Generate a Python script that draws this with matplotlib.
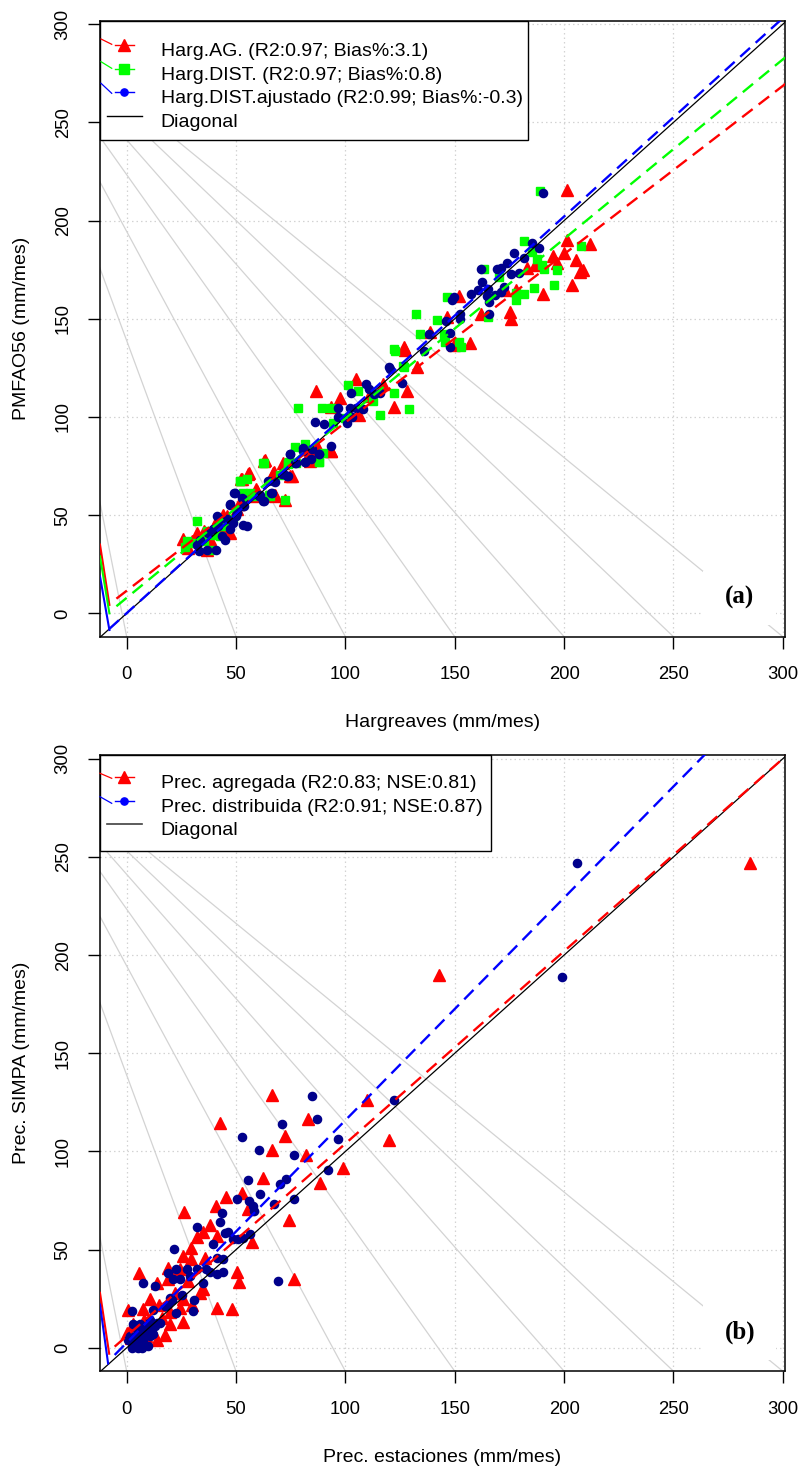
import matplotlib
matplotlib.use('Agg')
import matplotlib.pyplot as plt
import numpy as np
from matplotlib.lines import Line2D
from matplotlib.legend_handler import HandlerLine2D
from matplotlib.patches import Rectangle

plt.rcParams['font.family'] = ['Liberation Sans', 'DejaVu Sans']

# ---------------- Panel (a) data ----------------
ag_x = [25.6, 35.3, 39.6, 32, 41.4, 45.7, 50.5, 51.5, 52.1, 55.6, 57.8, 63, 59.4, 67.3, 71.5, 74.6, 93.6, 83.7,
        67.7, 28.2, 36.5, 47.2, 38, 43, 30, 44,
        127, 105, 97.7, 86.4, 93.6, 106.2, 122.4, 128, 117.1, 93.2, 86.8, 83.8, 67.1, 63.3, 56.1, 52.7, 59.2,
        67.6, 72.4, 75.5, 111,
        201.5, 127.4, 132.7, 149.5, 157.2, 162.1, 175.2, 175.8, 190.3, 203.7, 205.3, 199.9, 195, 196.9, 201.1,
        211.7, 207.1, 208.8, 183.1, 186.9, 173.2, 178.2, 152, 146.5, 138.5]
ag_y = [37.9, 41.8, 42.7, 41, 47.4, 49.5, 52.9, 55.5, 68.3, 70.8, 59.7, 77.6, 62.3, 72, 76.8, 70, 82.8, 82.8,
        59.7, 33.3, 32.4, 41, 38, 44, 37, 50,
        135.4, 119.2, 109.9, 113.3, 105.3, 100.9, 105.1, 113.3, 116.7, 82.7, 85.2, 77.6, 71.6, 77.9, 71.3, 68.2,
        63.1, 60.5, 57.7, 69.9, 110.7,
        215.4, 134.1, 125.3, 136.9, 137.5, 152.6, 153.4, 150, 162.8, 167.1, 179.9, 183.6, 181.9, 178.5, 190.1,
        188.1, 173.9, 174.7, 176.1, 177.6, 164.5, 164.8, 161.4, 150.9, 143.2]

dist_x = [32.3, 27.7, 26.6, 36.5, 38.1, 42.6, 43.8, 48.7, 51.8, 55.1, 53.3, 57.8, 62.4, 72.3, 65.1, 70, 73.8,
          74.3, 88, 89.8, 77.6, 35.3, 30, 40, 45,
          122.4, 126.5, 101.2, 105.8, 112.6, 115.6, 122.4, 78.5, 89.1, 93.6, 94.4, 99.7, 76.9, 81.5, 88, 73.9,
          62.6, 52, 65.6, 56.5, 129,
          189.2, 181.6, 185.4, 187.7, 190, 190.8, 196.9, 207.6, 195.6, 186.2, 177.8, 181.6, 177.8, 170.2, 163.3,
          146.5, 141.9, 132.4, 134, 145.3, 145.4, 151.8, 152.9, 165.1, 122.8, 126.6]
dist_y = [46.9, 36.7, 33.8, 41.8, 32.4, 39.6, 44.4, 47.8, 67.4, 68.3, 61.4, 59.7, 76.5, 57.7, 60.1, 70.3, 75.9,
          77.1, 77.1, 81.9, 76.8, 36.7, 36, 40, 46,
          134.5, 126, 116.2, 113.3, 108.2, 100.9, 112.4, 104.8, 104.8, 104.8, 97.1, 99.7, 84.9, 86.1, 77, 76.7,
          76.4, 67.3, 59.7, 61.4, 104,
          215.2, 189.6, 184.1, 180.2, 177.3, 175.1, 174.7, 187, 167.1, 165.9, 163.1, 162.8, 159.4, 171.3, 175.1,
          161.1, 149.5, 152.6, 142, 142.3, 138, 138, 135.8, 150.9, 133.8, 125.3]

adj_x = [32, 33.2, 36.5, 40.8, 33.5, 37.3, 39.6, 41.9, 42.6, 41.1, 45.7, 47.2, 43.4, 44.9, 48.7, 50.2, 53.3, 55.1,
         49.5, 47.2, 53.3, 50.5, 53, 62.4, 60.6, 66.2, 67, 64.7, 71.2, 73.4, 74.6, 76.9, 81.4, 84.5, 88, 80.7,
         119.8, 102.7, 109.5, 111, 112.9, 115.6, 125.9, 96.7, 102, 105, 108, 103.2, 100.7, 86.1, 90.2, 96.7, 93.6,
         80.8, 84.6, 87.9, 74.7, 77.4, 81.5, 71.7, 67.9, 73.9, 66.4, 62.6, 61.1, 52.7, 48.9, 47.4, 53.5, 50.5,
         190.5, 185.4, 188.5, 177, 181.6, 161.8, 169.1, 171, 174, 175.5, 179.3, 162.5, 160.5, 165.1, 172.4, 171,
         168.6, 157.5, 164.8, 165.6, 149.5, 148.8, 152.3, 152.6, 165.6, 146.2, 147.7, 138.1, 135.8, 148, 120.5]
adj_y = [35, 31.6, 32.4, 32.1, 37.5, 41, 42.7, 44.4, 47.8, 49.5, 47.8, 42.7, 39.2, 37.5, 46.1, 49.5, 45.2, 44.7,
         61.4, 55.5, 54.6, 51.5, 58, 57.2, 59.7, 61.4, 67.4, 67.4, 70.8, 70, 81.1, 76.8, 77.1, 78.5, 81.1, 82.8,
         125.2, 112.4, 116.7, 114.1, 111.6, 112.4, 117.5, 104.8, 104.8, 104.8, 103.9, 100.2, 96.8, 97.4, 96.6,
         100.2, 85.2, 84.4, 83.5, 81, 81, 76.7, 77, 71.6, 66.8, 69.9, 61.4, 57.1, 60.5, 58.8, 61.4, 55.4, 54.6, 51.2,
         214.3, 188.7, 186.3, 183.3, 181.2, 175.1, 175.1, 176, 178.5, 173, 173.4, 168.8, 164.5, 165.4, 166.2, 163.7,
         161.9, 162.5, 161.4, 158.5, 161.1, 159.7, 152.2, 149.7, 152.2, 148.8, 142.7, 142, 133.8, 135.8, 124.4]

labels_a = ['Harg.AG. (R2:0.97; Bias%:3.1)', 'Harg.DIST. (R2:0.97; Bias%:0.8)',
            'Harg.DIST.ajustado (R2:0.99; Bias%:-0.3)', 'Diagonal']
# fitted lines (intercept, slope, first x)
fit_a_intercept = [11.5, 7.9, 0.1]
fit_a_slope = [0.857, 0.914, 1.01]
fit_a_start = [-4.7, -4.7, -8.0]
# short solid segments at the left edge (x0, y0, x1, y1)
edge_a = [(-12.2, 35.0, -7.9, 4.3), (-12.2, 29.0, -7.9, 0.0), (-12.2, 18.8, -7.9, -8.5)]

# ---------------- Panel (b) data ----------------
agr_x = [285, 143, 110, 120,
         66.3, 42.7, 83.1, 72.4, 66.3, 82, 98.8, 62.2, 88.4, 45.4, 52.6, 40.7, 26.2, 55.6, 74.1, 38.1, 35.1, 32.3,
         41.2, 57.2, 29.3, 25.9, 29.3, 35.8, 5.8, 13.7, 19.1, 24.4, 19.1, 28.2, 50.3, 51.5, 76.5, 33.5, 10.7, 25.9,
         41.2, 48.2, 7.6, 25.9, 19.8, 24.4, 0.8, 0, 13.7, 17.5, 6.1,
         2, 4, 9, 12, 16, 20, 30, 35, 22, 15, 3, 8]
agr_y = [247, 190, 126, 106,
         129, 114.3, 116.3, 108.1, 100.5, 98, 91.7, 86.6, 84, 76.9, 78.6, 72.2, 69.3, 70.5, 64.9, 62.8, 58.9, 56.5,
         56.9, 53.8, 50.9, 46.7, 45.3, 45.8, 37.9, 33.1, 40.7, 39.9, 34.8, 34, 38.5, 33.6, 34.8, 28, 25, 25,
         20.4, 19.9, 19.9, 13.1, 11.9, 20.4, 19.5, 7.6, 4.2, 6.3, 9.3,
         5, 2, 6, 8, 15, 18, 22, 30, 28, 22, 12, 14]

dis_x = [206, 199, 122,
         91.9, 96.8, 84.9, 87.2, 70.9, 52.9, 76.7, 60.7, 55.6, 72.9, 70.1, 61.1, 67.4, 76.5, 50.3, 56.1, 57.6, 58.2,
         43.4, 42.7, 32, 45, 46.5, 48.8, 51.1, 53, 56.4, 39.6, 21.6, 41.2, 43.9, 19.1, 22.6, 27.7, 32, 36.3, 38.1,
         41.5, 43.9, 29, 24.4, 21.3, 7.6, 13, 34.8, 25.2, 20.6, 19.1, 17.5, 19.8, 30.9, 30.2, 22.6, 12.2, 2.3,
         10.7, 15.2, 13, 69.4,
         0.8, 2.3, 3, 4.6, 6.1, 1.5, 3.8, 5.3, 6.9, 7.6, 4.6, 3, 6.1, 9.1, 9.1, 10.7, 12.2, 2.3, 7.6, 9.9, 5.3,
         6.9, 11.4, 13.7]
dis_y = [247, 189, 126,
         90.8, 106.1, 128.2, 116.3, 113.8, 107.3, 98, 100.5, 85.7, 86.1, 83.2, 78.1, 73, 75.6, 75.6, 75, 72.2, 69.6,
         68.8, 64, 61.6, 58.6, 58.9, 55.5, 55.2, 55.7, 58.1, 53, 50.4, 45.8, 45, 38.2, 39.9, 39.9, 39.9, 39.9, 38.5,
         37.4, 38.5, 36.8, 34.8, 35.1, 33.1, 31.4, 32.8, 26.7, 24.3, 22.1, 21.2, 25.5, 24.3, 18.7, 17.5, 19.5, 18.7,
         14.4, 12.7, 11, 34,
         4.2, 2.5, 0.8, 1.7, 2.5, 5.9, 5.1, 5.9, 7.6, 9.3, 9.3, 11.9, 11.9, 11, 6.8, 5.9, 6.8, 0, 4.2, 0.8, 0,
         0, 10.2, 12.7]

labels_b = ['Prec. agregada (R2:0.83; NSE:0.81)', 'Prec. distribuida (R2:0.91; NSE:0.87)', 'Diagonal']
fit_b_intercept = [6.0, 2.6]
fit_b_slope = [0.98, 1.133]
fit_b_start = [-5.5, -5.5]
edge_b = [(-12.2, 28.0, -8.0, -3.0), (-12.2, 22.0, -8.5, -8.0)]

ticks = [0, 50, 100, 150, 200, 250, 300]
ray_ends = [0, 50, 100, 150, 200, 250, 300]
ray_apex = (-58.4, 315.0)

XLIM = (-12.2, 301.0)
YLIM = (-11.9, 301.9)
GREY = '#D3D3D3'
DASHES = (5.6, 3.2)
AX_W, AX_H = 685.0, 616.2


class ShortHandler(HandlerLine2D):
    """Legend line shortened around the marker and lifted slightly (as in the R legend)."""

    def __init__(self, frac=0.55, lift=3.0, **kw):
        super().__init__(**kw)
        self.frac = frac
        self.lift = lift

    def create_artists(self, legend, orig_handle, xdescent, ydescent, width, height, fontsize, trans):
        arts = super().create_artists(legend, orig_handle, xdescent, ydescent, width, height, fontsize, trans)
        line = arts[0]
        xd = np.asarray(line.get_xdata(), dtype=float)
        yd = np.asarray(line.get_ydata(), dtype=float)
        c = 0.5 * (xd.min() + xd.max())
        h = 0.5 * (xd.max() - xd.min()) * self.frac
        line.set_xdata([c - h, c, c + h])
        line.set_ydata([yd[0] + self.lift] * 3)
        line.set_markevery([1])
        return arts


def base_axes(ax, xlabel, ylabel, tag):
    ax.set_xlim(*XLIM)
    ax.set_ylim(*YLIM)
    ax.set_xticks(ticks)
    ax.set_yticks(ticks)
    ax.grid(True, color=GREY, linestyle=(0, (1.2, 2.4)), linewidth=0.9, zorder=0)
    ax.set_axisbelow(True)
    for s in ax.spines.values():
        s.set_linewidth(1.1)
        s.set_color('black')
    ax.tick_params(axis='both', direction='out', length=8.4, width=1.0, labelsize=13.3, colors='black')
    ax.tick_params(axis='x', pad=13)
    ax.tick_params(axis='y', pad=12)
    for lbl in ax.get_yticklabels():
        lbl.set_rotation(90)
        lbl.set_va('center')
        lbl.set_ha('right')
    ax.set_xlabel(xlabel, fontsize=14, va='center')
    ax.set_ylabel(ylabel, fontsize=14, va='center')
    ax.xaxis.set_label_coords(0.5, -86.3 / AX_H)
    ax.yaxis.set_label_coords(-78.3 / AX_W, 0.5)
    for e in ray_ends:
        ax.plot([ray_apex[0], e], [ray_apex[1], YLIM[0]], color=GREY, lw=0.9, zorder=1)
    ax.plot([XLIM[0], XLIM[1]], [XLIM[0], XLIM[1]], color='black', lw=0.9, zorder=4)
    ax.add_patch(Rectangle((263.7, -6.0), 33.3, 27.8, facecolor='white', edgecolor='none', zorder=2))
    ax.text(280.4, 7.9, tag, fontsize=18, fontweight='bold', family=['Liberation Serif', 'DejaVu Serif'],
            ha='center', va='center', zorder=6)


def framed_legend(ax, handles, labels, frame_w, frame_h, first_row, spacing, shorts, diag_lines, cols):
    ax.add_patch(Rectangle((0, 1 - frame_h / AX_H), frame_w / AX_W, frame_h / AX_H, transform=ax.transAxes,
                           facecolor='white', edgecolor='black', lw=1.0, zorder=6.5, clip_on=False))
    fs_px = 14 * 100 / 72.0
    text_h = 17.4
    hmap = {h: ShortHandler() for h in shorts}
    for h in handles:
        if h not in shorts:
            hmap[h] = ShortHandler(frac=1.0)
    leg = ax.legend(handles, labels, loc='upper left',
                    bbox_to_anchor=(6.7 / AX_W, 1 - (first_row - text_h / 2) / AX_H),
                    borderaxespad=0, borderpad=0, frameon=False, fontsize=14,
                    handlelength=35.0 / fs_px, handletextpad=19.0 / fs_px,
                    labelspacing=(spacing - text_h) / fs_px,
                    handler_map=hmap)
    leg.set_zorder(7)
    for (xa, ya, xb, yb), c in zip(diag_lines, cols):
        ax.plot([xa / AX_W, xb / AX_W], [1 - ya / AX_H, 1 - yb / AX_H], transform=ax.transAxes,
                color=c, lw=0.9, zorder=8, clip_on=False)
    return leg


fig = plt.figure(figsize=(8.02, 14.68), dpi=100)
ax_a = fig.add_axes([100 / 802, 1 - 636.7 / 1468, AX_W / 802, AX_H / 1468])
ax_b = fig.add_axes([100 / 802, 1 - 1371.2 / 1468, AX_W / 802, AX_H / 1468])

# ---- Panel (a) ----
base_axes(ax_a, 'Hargreaves (mm/mes)', 'PMFAO56 (mm/mes)', '(a)')
ax_a.plot(ag_x, ag_y, linestyle='none', marker='^', ms=8.2, color='#FF0000', mec='#FF0000', zorder=3)
ax_a.plot(dist_x, dist_y, linestyle='none', marker='s', ms=6.4, color='#00FF00', mec='#00FF00', zorder=3)
ax_a.plot(adj_x, adj_y, linestyle='none', marker='o', ms=5.9, color='#00008B', mec='#00008B', zorder=3)
cols_a = ['#FF0000', '#00FF00', '#0000FF']
for b0, b1, xs, c in zip(fit_a_intercept, fit_a_slope, fit_a_start, cols_a):
    xx = np.array([xs, 320.0])
    ax_a.plot(xx, b0 + b1 * xx, color=c, lw=1.7, dashes=DASHES, zorder=5)
for (x0, y0, x1, y1), c in zip(edge_a, cols_a):
    ax_a.plot([x0, x1], [y0, y1], color=c, lw=1.5, zorder=5)

h_a = [Line2D([], [], color='#FF0000', marker='^', ms=8.6, lw=1.0),
       Line2D([], [], color='#00FF00', marker='s', ms=6.6, lw=1.0),
       Line2D([], [], color='#0000FF', marker='o', ms=5.2, lw=1.0),
       Line2D([], [], color='black', lw=1.0)]
framed_legend(ax_a, h_a, labels_a, frame_w=427.7, frame_h=119.5, first_row=30.5, spacing=23.4,
              shorts=h_a[:3],
              diag_lines=[(1, 18.5, 11.7, 23.8), (1, 41.2, 11.7, 47.8), (1, 62.8, 11.7, 72.8)],
              cols=cols_a)

# ---- Panel (b) ----
base_axes(ax_b, 'Prec. estaciones (mm/mes)', 'Prec. SIMPA (mm/mes)', '(b)')
ax_b.plot(agr_x, agr_y, linestyle='none', marker='^', ms=8.2, color='#FF0000', mec='#FF0000', zorder=3)
ax_b.plot(dis_x, dis_y, linestyle='none', marker='o', ms=5.9, color='#00008B', mec='#00008B', zorder=3)
cols_b = ['#FF0000', '#0000FF']
for b0, b1, xs, c in zip(fit_b_intercept, fit_b_slope, fit_b_start, cols_b):
    xx = np.array([xs, 320.0])
    ax_b.plot(xx, b0 + b1 * xx, color=c, lw=1.7, dashes=DASHES, zorder=5)
for (x0, y0, x1, y1), c in zip(edge_b, cols_b):
    ax_b.plot([x0, x1], [y0, y1], color=c, lw=1.5, zorder=5)

h_b = [Line2D([], [], color='#FF0000', marker='^', ms=8.6, lw=1.0),
       Line2D([], [], color='#0000FF', marker='o', ms=5.2, lw=1.0),
       Line2D([], [], color='#404040', lw=1.2)]
framed_legend(ax_b, h_b, labels_b, frame_w=390.7, frame_h=95.7, first_row=28.0, spacing=23.5,
              shorts=h_b[:2],
              diag_lines=[(0, 18.3, 11.7, 23.3), (0, 41.7, 11.7, 48.3)],
              cols=cols_b)

fig.savefig('out.png', dpi=100)
